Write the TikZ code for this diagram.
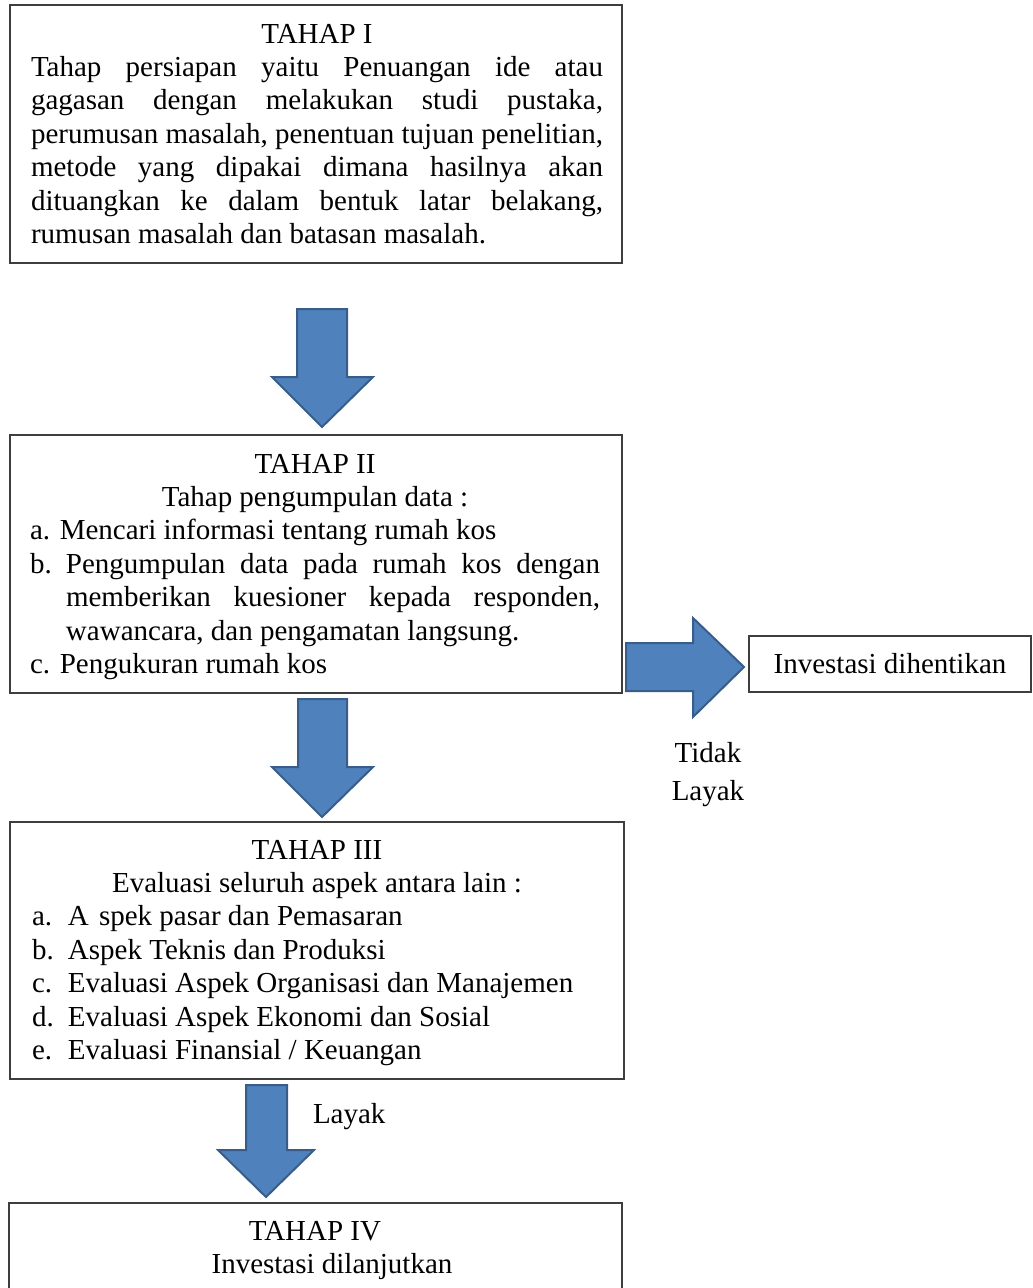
\documentclass[tikz,border=0pt]{standalone}
\usepackage{fontspec}
\setmainfont{Liberation Serif}
\definecolor{arrfill}{RGB}{79,129,189}
\definecolor{arrline}{RGB}{56,93,138}
\definecolor{boxline}{RGB}{62,62,62}
\newcommand{\myj}[1]{\makebox[\linewidth][s]{#1}\par}
\newcommand{\myc}[1]{\makebox[\linewidth]{#1}\par}
\newcommand{\myitem}[2]{\makebox[36pt][l]{#1}#2\par}
\begin{document}
\begin{tikzpicture}[x=1pt,y=-1pt,
  every node/.style={inner sep=0pt,outer sep=0pt},
  boxst/.style={draw=boxline,line width=1.6pt,fill=white,rectangle,anchor=north west},
  blk/.style={fill=arrfill,draw=arrline,line width=2pt,line join=miter},
  txt/.style={anchor=base west,font=\fontsize{29}{33.4}\selectfont},
  lbl/.style={anchor=base,font=\fontsize{29}{33.4}\selectfont}]
\useasboundingbox[fill=white] (0,0) rectangle (1033,1288);

% boxes
\node[boxst,minimum width=612pt,minimum height=258pt] (b1) at (10,5) {};
\node[boxst,minimum width=612pt,minimum height=258pt] (b2) at (10,435) {};
\node[boxst,minimum width=282pt,minimum height=56pt] (b5) at (749,636) {};
\node[boxst,minimum width=614pt,minimum height=257pt] (b3) at (10,822) {};
\node[boxst,minimum width=613pt,minimum height=100pt] (b4) at (9,1203) {};

% texts
\node[txt] (t1) at (31,43) {\parbox[t]{572pt}{\fontsize{29}{33.4}\selectfont
\myc{TAHAP I}
\myj{Tahap persiapan yaitu Penuangan ide atau}
\myj{gagasan dengan melakukan studi pustaka,}
\myj{perumusan masalah, penentuan tujuan penelitian,}
\myj{metode yang dipakai dimana hasilnya akan}
\myj{dituangkan ke dalam bentuk latar belakang,}
rumusan masalah dan batasan masalah.}};

\node[txt] (t2) at (30,473) {\parbox[t]{570pt}{\fontsize{29}{33.4}\selectfont
\myc{TAHAP II}
\myc{Tahap pengumpulan data :}
a. Mencari informasi tentang rumah kos\par
\makebox[36pt][l]{b.}\makebox[\dimexpr\linewidth-36pt\relax][s]{Pengumpulan data pada rumah kos dengan}\par
\hspace*{36pt}\makebox[\dimexpr\linewidth-36pt\relax][s]{memberikan kuesioner kepada responden,}\par
\hspace*{36pt}wawancara, dan pengamatan langsung.\par
c. Pengukuran rumah kos}};

\node[lbl] (t5) at (890,673) {Investasi dihentikan};

\node[txt] (t3) at (32,859) {\parbox[t]{570pt}{\fontsize{29}{33.4}\selectfont
\myc{TAHAP III}
\myc{Evaluasi seluruh aspek antara lain :}
\myitem{a.}{A\hspace{0.35em}spek pasar dan Pemasaran}
\myitem{b.}{Aspek Teknis dan Produksi}
\myitem{c.}{Evaluasi Aspek Organisasi dan Manajemen}
\myitem{d.}{Evaluasi Aspek Ekonomi dan Sosial}
\myitem{e.}{Evaluasi Finansial / Keuangan}}};

\node[txt] (t4) at (30,1240) {\parbox[t]{570pt}{\fontsize{29}{33.4}\selectfont
\myc{TAHAP IV}
\makebox[\linewidth]{\hspace{34pt}Investasi dilanjutkan}}};

% labels
\node[lbl] (tidak) at (708,762) {Tidak};
\node[lbl] (layak1) at (708,800) {Layak};
\node[txt] (layak2) at (313,1123) {Layak};

% block arrows
\draw[blk] (297,309) -- (347,309) -- (347,377) -- (373,377) -- (322,427)
  -- (272,377) -- (297,377) -- cycle;
\draw[blk] (298,699) -- (347,699) -- (347,767) -- (373,767) -- (322,817)
  -- (272,767) -- (298,767) -- cycle;
\draw[blk] (246,1085) -- (287,1085) -- (287,1150) -- (314,1150) -- (266,1197)
  -- (218,1150) -- (246,1150) -- cycle;
\draw[blk] (626,643) -- (693,643) -- (693,618) -- (744,667) -- (693,717)
  -- (693,691) -- (626,691) -- cycle;
\end{tikzpicture}
\end{document}
